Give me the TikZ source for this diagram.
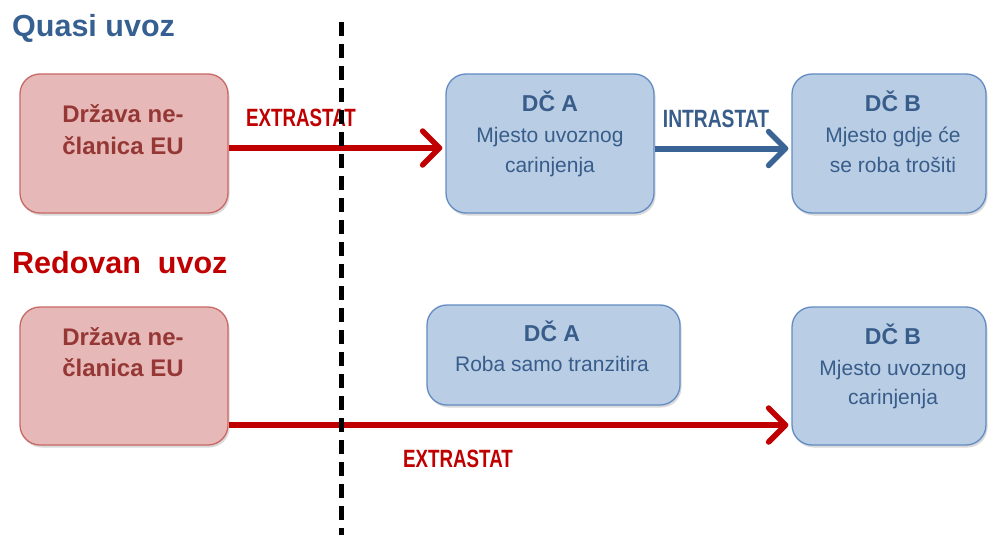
\documentclass[tikz,border=0pt]{standalone}
\usepackage{fontspec}
\setmainfont{Liberation Sans}
\usetikzlibrary{arrows.meta,shadows}
\definecolor{titleblue}{RGB}{55,96,146}
\definecolor{dred}{RGB}{192,0,0}
\definecolor{pinkfill}{RGB}{230,185,184}
\definecolor{pinkline}{RGB}{200,105,103}
\definecolor{pinktext}{RGB}{149,55,53}
\definecolor{bluefill}{RGB}{185,205,229}
\definecolor{blueline}{RGB}{100,140,195}
\definecolor{bluetext}{RGB}{56,93,138}
\definecolor{arrowblue}{RGB}{59,100,150}
\begin{document}
\begin{tikzpicture}[x=1pt,y=-1pt,
  box/.style={rectangle, rounded corners=20pt, line width=1.3pt, inner sep=0pt,
    drop shadow={shadow xshift=1.5pt,shadow yshift=-2.5pt,opacity=0.3}},
  pinkbox/.style={box, draw=pinkline, fill=pinkfill},
  bluebox/.style={box, draw=blueline, fill=bluefill},
  titletext/.style={anchor=base west, inner sep=0pt, font=\fontsize{30.5}{34}\selectfont\bfseries},
  pinktxt/.style={anchor=base, inner sep=0pt, text=pinktext, font=\fontsize{24}{28}\selectfont\bfseries},
  bluehead/.style={anchor=base, inner sep=0pt, text=bluetext, font=\fontsize{23}{27}\selectfont\bfseries},
  bluetxt/.style={anchor=base, inner sep=0pt, text=bluetext, font=\fontsize{21}{25}\selectfont},
  flowlabel/.style={anchor=base, inner sep=0pt, font=\fontsize{25}{29}\selectfont\bfseries},
  flowarrow/.style={line width=6pt, -{Straight Barb[length=17pt,width=34pt,line width=5.5pt,round]}},
  borderline/.style={line width=5pt, dash pattern=on 14pt off 8pt}
]
\useasboundingbox (0,0) rectangle (988,535);

% titles
\node[titletext, text=titleblue] (t1) at (12,37) {Quasi uvoz};
\node[titletext, text=dred] (t2) at (12,273) {Redovan\ \ uvoz};

% boxes
\node[pinkbox, minimum width=208pt, minimum height=139pt] (p1) at (124,143.5) {};
\node[bluebox, minimum width=208pt, minimum height=139pt] (a1) at (550,143.5) {};
\node[bluebox, minimum width=194pt, minimum height=139pt] (b1) at (889,143.5) {};
\node[pinkbox, minimum width=208pt, minimum height=138pt] (p2) at (124,376) {};
\node[bluebox, minimum width=253pt, minimum height=100pt] (a2) at (553.5,355) {};
\node[bluebox, minimum width=194pt, minimum height=138pt] (b2) at (889,376) {};

% box texts
\node[pinktxt] (p1l1) at (123,122) {Država ne-};
\node[pinktxt] (p1l2) at (123,154) {članica EU};
\node[bluehead] (a1l1) at (550,111) {DČ A};
\node[bluetxt] (a1l2) at (550,142) {Mjesto uvoznog};
\node[bluetxt] (a1l3) at (550,172) {carinjenja};
\node[bluehead] (b1l1) at (893,111) {DČ B};
\node[bluetxt] (b1l2) at (893,142) {Mjesto gdje će};
\node[bluetxt] (b1l3) at (893,172) {se roba trošiti};
\node[pinktxt] (p2l1) at (123,345) {Država ne-};
\node[pinktxt] (p2l2) at (123,376) {članica EU};
\node[bluehead] (a2l1) at (552,341) {DČ A};
\node[bluetxt] (a2l2) at (552,371) {Roba samo tranzitira};
\node[bluehead] (b2l1) at (893,344) {DČ B};
\node[bluetxt] (b2l2) at (893,375) {Mjesto uvoznog};
\node[bluetxt] (b2l3) at (893,404) {carinjenja};

% connectors
\draw[flowarrow, draw=dred] ([yshift=-4.5pt]p1.east) -- ([xshift=-3pt,yshift=-4.5pt]a1.west);
\draw[flowarrow, draw=arrowblue] ([yshift=-5pt]a1.east) -- ([xshift=-3pt,yshift=-5pt]b1.west);
\draw[flowarrow, draw=dred] ([yshift=-49pt]p2.east) -- ([xshift=-3pt,yshift=-49pt]b2.west);

% labels
\node[flowlabel, text=dred] (e1) at (301,126) {\scalebox{0.75}[1]{EXTRASTAT}};
\node[flowlabel, text=bluetext] (i1) at (716,127) {\scalebox{0.77}[1]{INTRASTAT}};
\node[flowlabel, text=dred] (e2) at (458,467) {\scalebox{0.75}[1]{EXTRASTAT}};

% border line
\coordinate (dtop) at (341,22);
\coordinate (dbot) at (341,540);
\draw[borderline] (dtop) -- (dbot);
\end{tikzpicture}
\end{document}
